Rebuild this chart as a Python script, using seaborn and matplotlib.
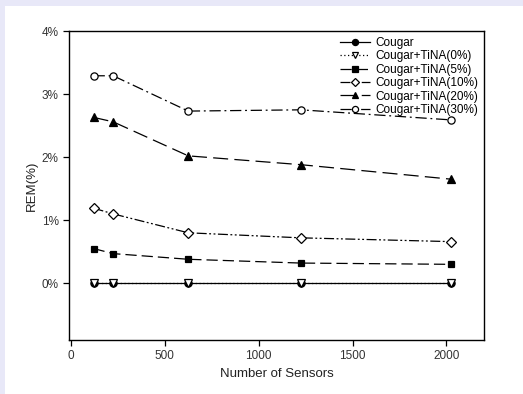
import pandas as pd
import matplotlib
matplotlib.use("Agg")
import matplotlib.pyplot as plt
import seaborn as sns
from matplotlib.patches import Rectangle
from matplotlib.ticker import FuncFormatter

sensors = [121, 225, 625, 1225, 2025]
cougar = [0.0, 0.0, 0.0, 0.0, 0.0]
tina0 = [0.0, 0.0, 0.0, 0.0, 0.0]
tina5 = [0.55, 0.47, 0.38, 0.32, 0.30]
tina10 = [1.19, 1.10, 0.80, 0.72, 0.66]
tina20 = [2.63, 2.56, 2.02, 1.88, 1.65]
tina30 = [3.29, 3.29, 2.73, 2.75, 2.59]

names = ['Cougar', 'Cougar+TiNA(0%)', 'Cougar+TiNA(5%)',
         'Cougar+TiNA(10%)', 'Cougar+TiNA(20%)', 'Cougar+TiNA(30%)']
values = [cougar, tina0, tina5, tina10, tina20, tina30]

rows = []
for name, vals in zip(names, values):
    for x, y in zip(sensors, vals):
        rows.append({'Sensors': x, 'REM': y, 'Series': name})
df = pd.DataFrame(rows)

styles = {
    'Cougar': dict(marker='o', linestyle='-', markerfacecolor='black'),
    'Cougar+TiNA(0%)': dict(marker='v', linestyle=(0, (1, 2)), markerfacecolor='white'),
    'Cougar+TiNA(5%)': dict(marker='s', linestyle=(0, (9, 4)), markerfacecolor='black', markersize=4.6),
    'Cougar+TiNA(10%)': dict(marker='D', linestyle=(0, (8, 2, 1.5, 2, 1.5, 2)), markerfacecolor='white', markersize=4.8),
    'Cougar+TiNA(20%)': dict(marker='^', linestyle=(0, (12, 5)), markerfacecolor='black'),
    'Cougar+TiNA(30%)': dict(marker='o', linestyle=(0, (9, 3, 1.5, 3)), markerfacecolor='white'),
}

plt.rcParams['font.family'] = ['Liberation Sans', 'DejaVu Sans']
fig = plt.figure(figsize=(5.23, 3.94), dpi=100, facecolor='#E8E8F8')
bg = Rectangle((5 / 523, 0), 1 - 5 / 523, 1 - 6 / 394,
               transform=fig.transFigure, facecolor='white',
               edgecolor='none', zorder=-10)
fig.patches.append(bg)
ax = fig.add_axes([69 / 523, 1 - 340 / 394, 415 / 523, 309 / 394])
ax.set_zorder(5)

for name in names:
    kw = dict(styles[name])
    ms = kw.pop('markersize', 5.2)
    sns.lineplot(data=df[df['Series'] == name], x='Sensors', y='REM', ax=ax,
                 color='black', linewidth=0.9, markersize=ms,
                 markeredgecolor='black', markeredgewidth=0.9,
                 label=name, **kw)

ax.set_xlim(-10, 2200)
ax.set_ylim(-0.9, 4)
ax.set_xticks([0, 500, 1000, 1500, 2000])
ax.set_yticks([0, 1, 2, 3, 4])
ax.yaxis.set_major_formatter(FuncFormatter(lambda v, p: f'{v:.0f}%'))
ax.tick_params(colors='black', labelcolor='#333333', labelsize=8.5, length=4, width=0.9)
for s in ax.spines.values():
    s.set_linewidth(1.0)
ax.set_xlabel('Number of Sensors', fontsize=9.5, color='#222222')
ax.set_ylabel('REM(%)', fontsize=9.5, color='#222222', labelpad=3)

leg = ax.legend(loc='upper right', frameon=False, fontsize=8.5,
                handlelength=2.6, labelspacing=0.12, borderaxespad=0.1,
                handletextpad=0.4, markerscale=0.85)

fig.savefig('out.png', dpi=100, facecolor=fig.get_facecolor())
